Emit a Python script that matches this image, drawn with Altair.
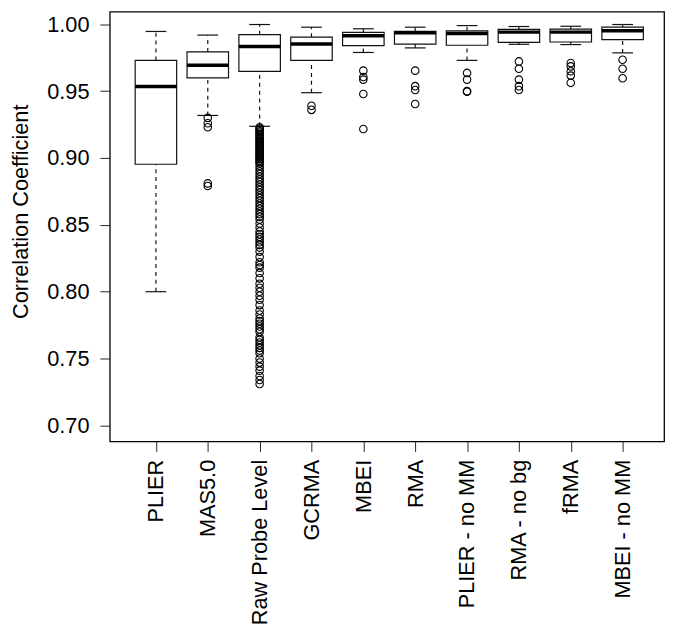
import altair as alt
import pandas as pd

categories = ["PLIER", "MAS5.0", "Raw Probe Level", "GCRMA", "MBEI", "RMA",
              "PLIER - no MM", "RMA - no bg", "fRMA", "MBEI - no MM"]
whisker_low = [0.800, 0.9318, 0.9237, 0.9488, 0.9789, 0.9823, 0.9730, 0.9850, 0.9848, 0.9786]
q1 = [0.8953, 0.9599, 0.9648, 0.9730, 0.9840, 0.9852, 0.9843, 0.9865, 0.9867, 0.9885]
median = [0.9534, 0.9693, 0.9833, 0.9852, 0.9914, 0.9936, 0.9931, 0.9941, 0.9941, 0.9951]
q3 = [0.9730, 0.9793, 0.9922, 0.9904, 0.9939, 0.9946, 0.9951, 0.9961, 0.9963, 0.9978]
whisker_high = [0.9946, 0.9919, 0.9998, 0.9978, 0.9966, 0.9978, 0.9990, 0.9983, 0.9985, 0.9998]

out_plier = []
out_mas5 = [0.930, 0.926, 0.923, 0.881, 0.879]
out_raw = [
    0.923, 0.922, 0.921, 0.920, 0.919, 0.918, 0.917, 0.916, 0.915, 0.914,
    0.913, 0.912, 0.911, 0.910, 0.909, 0.908, 0.907, 0.906, 0.905, 0.904,
    0.903, 0.902, 0.901, 0.900, 0.899, 0.898, 0.897, 0.896,
    0.894, 0.892, 0.890, 0.888, 0.886, 0.884, 0.882, 0.880, 0.878, 0.876,
    0.874, 0.872, 0.870, 0.868, 0.866, 0.864, 0.862, 0.860, 0.858, 0.856, 0.854,
    0.851, 0.848, 0.845, 0.843, 0.841, 0.839, 0.837, 0.835, 0.833, 0.830,
    0.826, 0.822, 0.820, 0.818, 0.814, 0.810, 0.806, 0.803, 0.800, 0.797,
    0.794, 0.790, 0.786, 0.783, 0.780, 0.778, 0.776, 0.774, 0.772, 0.770,
    0.766, 0.764, 0.762, 0.760, 0.758, 0.756, 0.754, 0.750, 0.747, 0.744,
    0.741, 0.737, 0.734, 0.731,
]
out_gcrma = [0.939, 0.936]
out_mbei = [0.9653, 0.9606, 0.9586, 0.9478, 0.9217]
out_rma = [0.9653, 0.9537, 0.9508, 0.9404]
out_plier_nomm = [0.9636, 0.9586, 0.9500, 0.9495]
out_rma_nobg = [0.9722, 0.9667, 0.9586, 0.9537, 0.9508]
out_frma = [0.9710, 0.9685, 0.9648, 0.9616, 0.9562]
out_mbei_nomm = [0.9734, 0.9667, 0.9596]

outliers = [out_plier, out_mas5, out_raw, out_gcrma, out_mbei, out_rma,
            out_plier_nomm, out_rma_nobg, out_frma, out_mbei_nomm]

y_ticks = [0.70, 0.75, 0.80, 0.85, 0.90, 0.95, 1.00]

box_df = pd.DataFrame({
    "idx": list(range(1, len(categories) + 1)),
    "name": categories,
    "lo": whisker_low, "q1": q1, "med": median, "q3": q3, "hi": whisker_high,
})
out_rows = []
for i, vals in enumerate(outliers):
    for v in vals:
        out_rows.append({"idx": i + 1, "value": v})
out_df = pd.DataFrame(out_rows)

xscale = alt.Scale(domain=[0.11, 10.80], nice=False, zero=False)
yscale = alt.Scale(domain=[0.688, 1.0094], nice=False, zero=False)

label_expr = "[" + ",".join("'" + c + "'" for c in categories) + "][datum.value - 1]"

xaxis = alt.Axis(values=list(range(1, len(categories) + 1)), labelExpr=label_expr,
                 labelAngle=270, title=None, domain=False, grid=False,
                 tickSize=10, tickColor="#222", labelPadding=8,
                 labelFont="Liberation Sans", labelFontSize=22, labelColor="black")
yaxis = alt.Axis(values=y_ticks, format=".2f", title="Correlation Coefficient",
                 domain=False, grid=False, tickSize=10, tickColor="#222",
                 labelPadding=11, labelFont="Liberation Sans", labelFontSize=22,
                 labelColor="black", titleFont="Liberation Sans", titleFontSize=22,
                 titleFontWeight="normal", titleColor="black", titleAngle=270,
                 titleX=-83, titleY=202, titleAlign="center", titleBaseline="alphabetic")

base = alt.Chart(box_df).transform_calculate(
    xl="datum.idx - 0.4", xr="datum.idx + 0.4",
    cl="datum.idx - 0.2", cr="datum.idx + 0.2",
)

whisk_lo = base.mark_rule(color="#111", strokeWidth=1.2, strokeDash=[4, 4]).encode(
    x=alt.X("idx:Q", scale=xscale, axis=xaxis),
    y=alt.Y("lo:Q", scale=yscale, axis=yaxis),
    y2="q1:Q",
)
whisk_hi = base.mark_rule(color="#111", strokeWidth=1.2, strokeDash=[4, 4]).encode(
    x=alt.X("idx:Q", scale=xscale), y=alt.Y("q3:Q", scale=yscale), y2="hi:Q",
)
cap_lo = base.mark_rule(color="#111", strokeWidth=1.2).encode(
    x=alt.X("cl:Q", scale=xscale), x2="cr:Q", y=alt.Y("lo:Q", scale=yscale),
)
cap_hi = base.mark_rule(color="#111", strokeWidth=1.2).encode(
    x=alt.X("cl:Q", scale=xscale), x2="cr:Q", y=alt.Y("hi:Q", scale=yscale),
)
box = base.mark_rect(fill="white", stroke="#111", strokeWidth=1.2).encode(
    x=alt.X("xl:Q", scale=xscale), x2="xr:Q",
    y=alt.Y("q1:Q", scale=yscale), y2="q3:Q",
)
med = base.mark_rule(color="black", strokeWidth=3.5).encode(
    x=alt.X("xl:Q", scale=xscale), x2="xr:Q", y=alt.Y("med:Q", scale=yscale),
)
pts = alt.Chart(out_df).mark_point(shape="circle", filled=False, color="black",
                                   size=58, strokeWidth=1.1, opacity=1).encode(
    x=alt.X("idx:Q", scale=xscale), y=alt.Y("value:Q", scale=yscale),
)

chart = alt.layer(whisk_lo, whisk_hi, box, med, cap_lo, cap_hi, pts).properties(
    width=561, height=435,
    padding={"left": 103, "top": 0, "right": 8, "bottom": 182},
    autosize=alt.AutoSizeParams(type="none"),
    background="white",
).configure_view(stroke="black", strokeWidth=1.3)

chart.save("out.html", embed_options={"renderer": "svg", "actions": False})
